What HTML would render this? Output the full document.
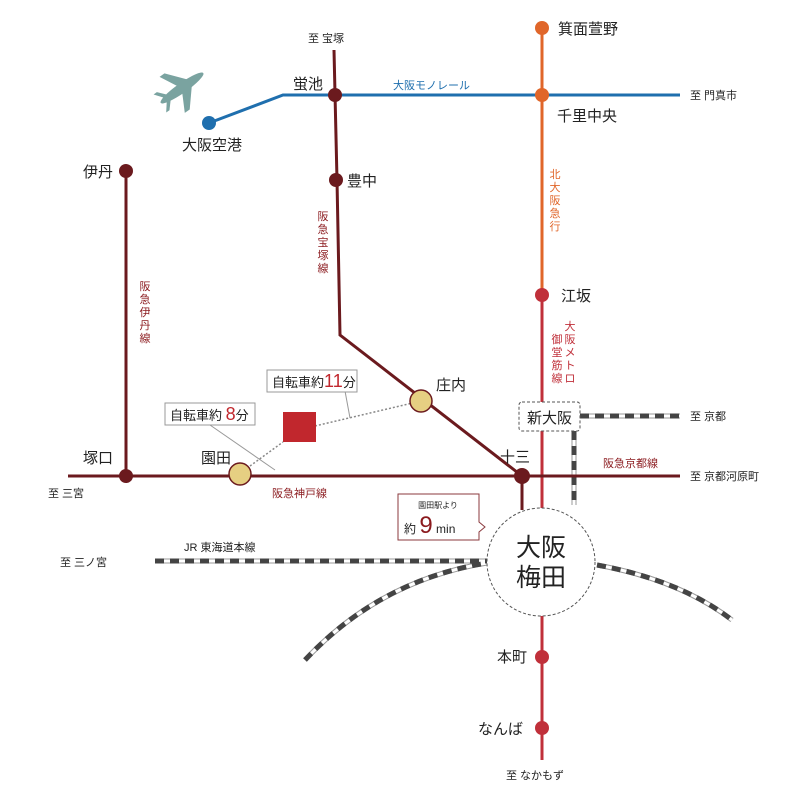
<!DOCTYPE html>
<html><head><meta charset="utf-8"><style>
html,body{margin:0;padding:0;background:#fff}
svg{display:block;font-family:"Liberation Sans","Noto Sans CJK JP",sans-serif}
</style></head><body>
<svg width="800" height="800" viewBox="0 0 800 800" xmlns="http://www.w3.org/2000/svg">
<g fill="none">
<g stroke="#999" stroke-width="5">
<path d="M580 416H680"/><path d="M574 431V505"/><path d="M155 561H490"/>
<path d="M305 660Q380 580 487 563"/><path d="M597 565Q680 580 732 620"/>
</g>
<g stroke="#fff" stroke-width="3">
<path d="M580 416H680"/><path d="M574 431V505"/><path d="M155 561H490"/>
<path d="M305 660Q380 580 487 563"/><path d="M597 565Q680 580 732 620"/>
</g>
<g stroke="#444" stroke-width="5" stroke-dasharray="9 6">
<path d="M580 416H680"/><path d="M574 431V505"/><path d="M155 561H490"/>
<path d="M305 660Q380 580 487 563"/><path d="M597 565Q680 580 732 620"/>
</g>
</g>
<path d="M542 28V295" stroke="#e0662a" stroke-width="3" fill="none"/>
<path d="M542 295V760" stroke="#c0303a" stroke-width="3" fill="none"/>
<path d="M209 123L283 95H680" stroke="#1f6fae" stroke-width="3" fill="none"/>
<g stroke="#6b1a1e" stroke-width="3" fill="none">
<path d="M334 50L337 180L340 335L522 476V510"/>
<path d="M126 171V476"/>
<path d="M68 476H680"/>
</g>
<path d="M250 466L283 442M315 426L421 401" stroke="#888" stroke-width="1.5" stroke-dasharray="2 2" fill="none"/>
<path d="M210 425L275 470M345 391L350 418" stroke="#999" stroke-width="1" fill="none"/>
<circle cx="541" cy="562" r="54" fill="#fff" stroke="#555" stroke-width="1" stroke-dasharray="3 2"/>
<rect x="519" y="402" width="61" height="29" rx="3" fill="#fff" stroke="#555" stroke-dasharray="3 2"/>
<rect x="283" y="412" width="33" height="30" fill="#c1272d"/>
<circle cx="209" cy="123" r="7" fill="#1f6fae"/>
<circle cx="542" cy="28" r="7" fill="#e0662a"/>
<circle cx="542" cy="95" r="7" fill="#e0662a"/>
<circle cx="335" cy="95" r="7" fill="#6b1a1e"/>
<circle cx="336" cy="180" r="7" fill="#6b1a1e"/>
<circle cx="126" cy="171" r="7" fill="#6b1a1e"/>
<circle cx="126" cy="476" r="7" fill="#6b1a1e"/>
<circle cx="522" cy="476" r="8" fill="#6b1a1e"/>
<circle cx="542" cy="295" r="7" fill="#c0303a"/>
<circle cx="542" cy="657" r="7" fill="#c0303a"/>
<circle cx="542" cy="728" r="7" fill="#c0303a"/>
<circle cx="421" cy="401" r="11" fill="#e6cf82" stroke="#6b1a1e" stroke-width="1.5"/>
<circle cx="240" cy="474" r="11" fill="#e6cf82" stroke="#6b1a1e" stroke-width="1.5"/>
<g fill="#7aa3a0" transform="translate(182,88) rotate(-35)">
<ellipse cx="0" cy="0" rx="26" ry="5"/>
<path d="M-2 -3L-12 -22L-6 -22L10 -3Z"/><path d="M-2 3L-12 22L-6 22L10 3Z"/>
<path d="M-20 -2L-27 -11L-23 -11L-15 -2Z"/><path d="M-20 2L-27 11L-23 11L-15 2Z"/>
</g>
<rect x="267" y="370" width="90" height="22" fill="#fff" stroke="#999"/>
<text x="272" y="387" font-size="13" fill="#222">自転車約<tspan fill="#c1272d" font-size="18">11</tspan>分</text>
<rect x="165" y="403" width="90" height="22" fill="#fff" stroke="#999"/>
<text x="170" y="420" font-size="13" fill="#222">自転車約 <tspan fill="#c1272d" font-size="18">8</tspan>分</text>
<path d="M398 494H479V522L485 527L479 532V540H398Z" fill="#fff" stroke="#8b3a3e"/>
<text x="438" y="508" font-size="8" fill="#222" text-anchor="middle">園田駅より</text>
<text x="404" y="533" font-size="12" fill="#222">約 <tspan fill="#8b1a1e" font-size="24">9</tspan> min</text>
<g fill="#222" font-size="15">
<text x="182" y="150">大阪空港</text>
<text x="293" y="89">蛍池</text>
<text x="347" y="186">豊中</text>
<text x="83" y="177">伊丹</text>
<text x="83" y="463">塚口</text>
<text x="201" y="463">園田</text>
<text x="436" y="390">庄内</text>
<text x="500" y="462">十三</text>
<text x="558" y="34">箕面萱野</text>
<text x="557" y="121">千里中央</text>
<text x="561" y="301">江坂</text>
<text x="527" y="423">新大阪</text>
<text x="497" y="662">本町</text>
<text x="478" y="734">なんば</text>
<text x="541" y="556" font-size="25" text-anchor="middle">大阪</text>
<text x="541" y="586" font-size="25" text-anchor="middle">梅田</text>
</g>
<g fill="#222" font-size="11">
<text x="308" y="42">至 宝塚</text>
<text x="690" y="99">至 門真市</text>
<text x="690" y="420">至 京都</text>
<text x="690" y="480">至 京都河原町</text>
<text x="48" y="497">至 三宮</text>
<text x="60" y="566">至 三ノ宮</text>
<text x="184" y="551">JR 東海道本線</text>
<text x="506" y="779">至 なかもず</text>
</g>
<text x="393" y="89" font-size="11" fill="#1f6fae">大阪モノレール</text>
<g fill="#8b1a1e" font-size="11">
<text x="272" y="497">阪急神戸線</text>
<text x="603" y="467">阪急京都線</text>
</g>
<g font-size="11" fill="#8b1a1e" text-anchor="middle">
<text x="323" y="220">阪</text><text x="323" y="233">急</text><text x="323" y="246">宝</text><text x="323" y="259">塚</text><text x="323" y="272">線</text>
<text x="145" y="290">阪</text><text x="145" y="303">急</text><text x="145" y="316">伊</text><text x="145" y="329">丹</text><text x="145" y="342">線</text>
</g>
<g font-size="11" fill="#e0662a" text-anchor="middle">
<text x="555" y="178">北</text><text x="555" y="191">大</text><text x="555" y="204">阪</text><text x="555" y="217">急</text><text x="555" y="230">行</text>
</g>
<g font-size="11" fill="#c0303a" text-anchor="middle">
<text x="570" y="330">大</text><text x="570" y="343">阪</text><text x="570" y="356">メ</text><text x="570" y="369">ト</text><text x="570" y="382">ロ</text>
<text x="557" y="343">御</text><text x="557" y="356">堂</text><text x="557" y="369">筋</text><text x="557" y="382">線</text>
</g>
</svg>
</body></html>
